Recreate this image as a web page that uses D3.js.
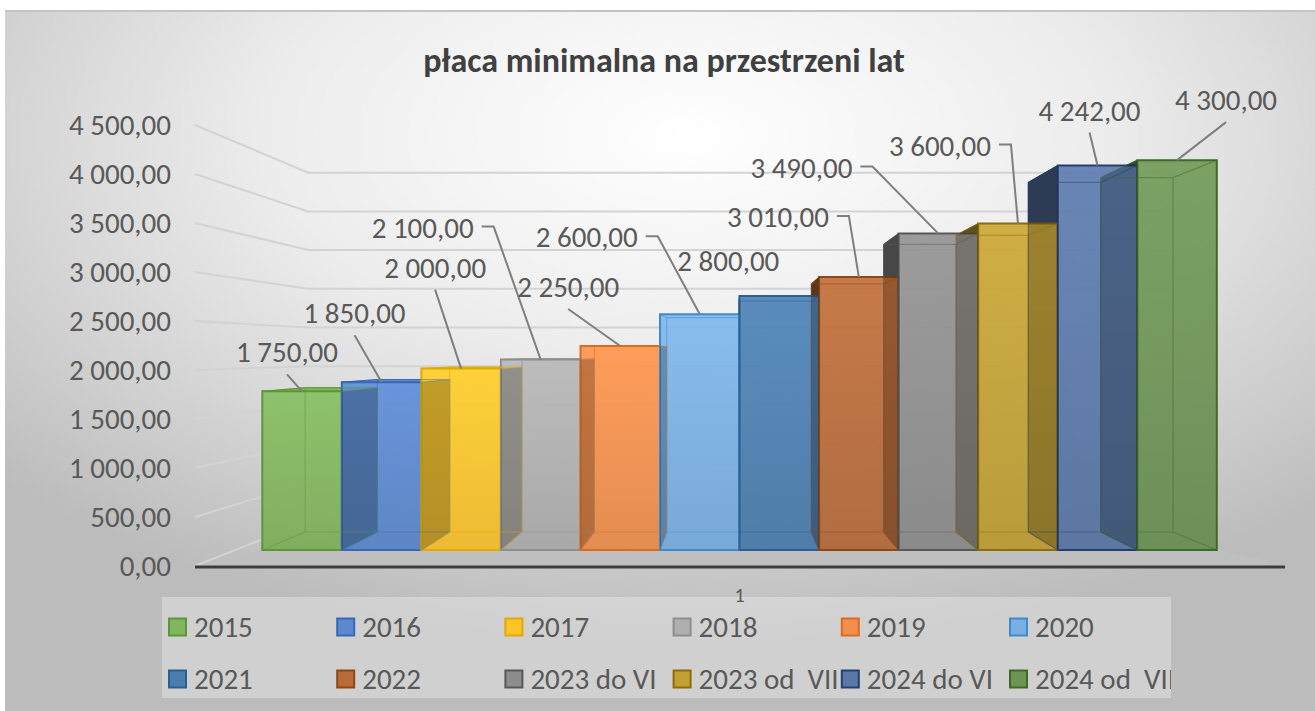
<!DOCTYPE html>
<html>
<head>
<meta charset="utf-8">
<script src="https://cdn.jsdelivr.net/npm/d3@7"></script>
<style>
  body { margin: 0; background: #fff; }
  #chart svg text { font-family: Calibri, Carlito, Lato, sans-serif; }
</style>
</head>
<body>
<div id="chart"></div>
<script>
// data
const years = ["2015", "2016", "2017", "2018", "2019", "2020", "2021", "2022",
    "2023 do VI", "2023 od  VII", "2024 do VI", "2024 od  VII"];
const wages = [1750, 1850, 2000, 2100, 2250, 2600, 2800, 3010, 3490, 3600, 4242, 4300];
const yTicks = [0, 500, 1000, 1500, 2000, 2500, 3000, 3500, 4000, 4500];
const categoryLabel = "1";
const title = "płaca minimalna na przestrzeni lat";

// bar colours (fill / edge)
const fills = ["#82b65e", "#5b88cf", "#fdc42a", "#afafaf", "#f28f4c", "#79afe2",
    "#4a7eaf", "#b96b39", "#8d8d8d", "#c2a034", "#5a77a8", "#6d9455"];
const edges = ["#5d9638", "#3a66b6", "#deaa05", "#8e8e8e", "#d86c20", "#3f8ace",
    "#2c5e8e", "#8c4817", "#585858", "#8d6d0a", "#24406f", "#3e6a28"];

// where each data label sits, relative to the top of its bar [dx, dy, leader: "s" straight, "e" elbow, "" none]
const labelOffsets = [[-15, -39, "s"], [-27, -69, "s"], [-26, -101, "s"], [-118, -132, "e"],
    [-52, -59, "s"], [-113, -77, "e"], [-51, -35, ""], [-81, -60, "e"],
    [-137, -66, "e"], [-78, -78, "e"], [-8, -55, "s"], [49, -60, "s"]];

const width = 1315, height = 711;
const fontSize = "29px";

// simple 3d: everything is drawn on the front plane and pulled toward a vanishing point
const vp = [734, 352];
const tBarFront = 0.075, tBarBack = 0.159, tWall = 0.21;
const proj = (X, Y, t) => [X + t * (vp[0] - X), Y + t * (vp[1] - Y)];
const poly = pts => "M" + pts.map(p => p[0].toFixed(1) + "," + p[1].toFixed(1)).join("L") + "Z";

const fmt = d3.formatLocale({ decimal: ",", thousands: " ", grouping: [3], currency: ["", ""] }).format(",.2f");

const y = d3.scaleLinear().domain([0, 4500]).range([566, 125]);
const x = d3.scaleBand().domain(years).range([224, 1256]).padding(0);
const floorX = [195, 1290];

const svg = d3.select("#chart").append("svg")
    .attr("width", width)
    .attr("height", height);

const defs = svg.append("defs");
const bg = defs.append("radialGradient").attr("id", "bg")
    .attr("cx", 0.52).attr("cy", 0.18).attr("r", 0.72);
bg.append("stop").attr("offset", 0).attr("stop-color", "#ffffff");
bg.append("stop").attr("offset", 0.45).attr("stop-color", "#ececec");
bg.append("stop").attr("offset", 1).attr("stop-color", "#bcbcbc");

years.forEach((k, i) => {
    const g = defs.append("linearGradient").attr("id", "bar" + i)
        .attr("x1", 0).attr("y1", 0).attr("x2", 0).attr("y2", 1);
    g.append("stop").attr("offset", 0).attr("stop-color", d3.color(fills[i]).brighter(0.15));
    g.append("stop").attr("offset", 1).attr("stop-color", d3.color(fills[i]).darker(0.15));
});

// background
svg.append("rect")
    .attr("x", 5).attr("y", 10)
    .attr("width", width - 5).attr("height", height - 10)
    .attr("fill", "url(#bg)");
svg.append("line")
    .attr("x1", 5).attr("x2", width).attr("y1", 11).attr("y2", 11)
    .attr("stroke", "#c4c4c4").attr("stroke-width", 2);

// gridlines: left wall then back wall
svg.append("g").selectAll("path")
    .data(yTicks)
    .join("path")
    .attr("d", v => {
        const a = [floorX[0], y(v)];
        const b = proj(floorX[0], y(v), tWall);
        const c = proj(floorX[1], y(v), tWall);
        return "M" + a.join(",") + "L" + b.join(",") + "L" + c.join(",");
    })
    .attr("fill", "none")
    .attr("stroke", "#d3d3d3")
    .attr("stroke-width", 2);

// floor
const X0 = x(years[0]), X1 = x(years[years.length - 1]) + x.bandwidth();
svg.append("path")
    .attr("d", poly([[floorX[0], y(0)], [floorX[1], y(0)], proj(X1, y(0), tBarFront), proj(X0, y(0), tBarFront)]))
    .attr("fill", "#bfbfbf");

const bars = years.map((k, i) => {
    const a = x(k), b = a + x.bandwidth(), top = y(wages[i]), bot = y(0);
    return { k, i, a, b, top, bot, v: wages[i] };
});

function sideFace(d) {
    const fa = proj(d.a, d.bot, tBarFront)[0], fb = proj(d.b, d.bot, tBarFront)[0];
    let X;
    if (fb < vp[0]) X = d.b;
    else if (fa > vp[0]) X = d.a;
    else return null;
    return poly([proj(X, d.bot, tBarFront), proj(X, d.top, tBarFront), proj(X, d.top, tBarBack), proj(X, d.bot, tBarBack)]);
}

// side faces
svg.append("g").selectAll("path")
    .data(bars.filter(d => sideFace(d)))
    .join("path")
    .attr("d", sideFace)
    .attr("fill", d => d3.color(fills[d.i]).darker(1.3))
    .attr("stroke", d => d3.color(edges[d.i]).darker(0.5))
    .attr("stroke-width", 1);

// top faces (only for bars below eye level)
svg.append("g").selectAll("path")
    .data(bars.filter(d => proj(d.a, d.top, tBarFront)[1] > vp[1]))
    .join("path")
    .attr("d", d => poly([proj(d.a, d.top, tBarFront), proj(d.b, d.top, tBarFront), proj(d.b, d.top, tBarBack), proj(d.a, d.top, tBarBack)]))
    .attr("fill", d => fills[d.i])
    .attr("stroke", d => edges[d.i])
    .attr("stroke-width", 1);

// front faces
svg.append("g").selectAll("path")
    .data(bars)
    .join("path")
    .attr("d", d => poly([proj(d.a, d.top, tBarFront), proj(d.b, d.top, tBarFront), proj(d.b, d.bot, tBarFront), proj(d.a, d.bot, tBarFront)]))
    .attr("fill", d => "url(#bar" + d.i + ")")
    .attr("fill-opacity", 0.93)
    .attr("stroke", d => edges[d.i])
    .attr("stroke-width", 2);

// side faces seen through the neighbouring bar
svg.append("g").selectAll("path")
    .data(bars.filter(d => sideFace(d)))
    .join("path")
    .attr("d", sideFace)
    .attr("fill", "#000")
    .attr("fill-opacity", 0.2);

// back edges visible through the glassy bars
svg.append("g").selectAll("path")
    .data(bars)
    .join("path")
    .attr("d", d => {
        const f = [[d.a, d.top], [d.b, d.top], [d.b, d.bot], [d.a, d.bot]];
        const back = f.map(p => proj(p[0], p[1], tBarBack));
        const front = f.map(p => proj(p[0], p[1], tBarFront));
        let s = poly(back);
        front.forEach((p, j) => { s += "M" + p.join(",") + "L" + back[j].join(","); });
        return s;
    })
    .attr("fill", "none")
    .attr("stroke", d => edges[d.i])
    .attr("stroke-opacity", 0.45)
    .attr("stroke-width", 1.2);

// category axis line
svg.append("line")
    .attr("x1", floorX[0]).attr("x2", floorX[1] - 5)
    .attr("y1", y(0) + 1).attr("y2", y(0) + 1)
    .attr("stroke", "#3c3c3c")
    .attr("stroke-width", 3);

// value axis
const yAxis = svg.append("g")
    .attr("transform", "translate(171,0)")
    .call(d3.axisLeft(y).tickValues(yTicks).tickSize(0).tickPadding(0).tickFormat(fmt));
yAxis.select(".domain").remove();
yAxis.selectAll("text")
    .attr("fill", "#595959")
    .style("font-size", fontSize);

// data labels with leader lines
const labelG = svg.append("g");
bars.forEach((d, i) => {
    const anchor = proj(d.a + x.bandwidth() / 2, d.top, tBarFront);
    const cx = anchor[0] + labelOffsets[i][0], cy = anchor[1] + labelOffsets[i][1];
    const t = labelG.append("text")
        .attr("x", cx).attr("y", cy)
        .attr("dy", "0.35em")
        .attr("text-anchor", "middle")
        .attr("fill", "#595959")
        .style("font-size", fontSize)
        .text(fmt(d.v));
    const kind = labelOffsets[i][2];
    if (!kind) return;
    const half = t.node().getComputedTextLength() / 2;
    let path;
    if (kind === "e") {
        path = "M" + (cx + half + 8) + "," + (cy - 1) + "L" + (cx + half + 20) + "," + (cy - 1) + "L" + anchor.join(",");
    } else {
        path = "M" + cx + "," + (cy + 22) + "L" + anchor.join(",");
    }
    labelG.append("path")
        .attr("d", path)
        .attr("fill", "none")
        .attr("stroke", "#7f7f7f")
        .attr("stroke-width", 2);
});

// legend
const legendBox = { x: 162, y: 597, w: 1009, h: 101 };
defs.append("clipPath").attr("id", "legendClip")
    .append("rect")
    .attr("x", legendBox.x).attr("y", legendBox.y)
    .attr("width", legendBox.w).attr("height", legendBox.h);
svg.append("rect")
    .attr("x", legendBox.x).attr("y", legendBox.y)
    .attr("width", legendBox.w).attr("height", legendBox.h)
    .attr("fill", "#ffffff")
    .attr("fill-opacity", 0.3);

const legend = svg.append("g").attr("clip-path", "url(#legendClip)");
const items = legend.selectAll("g")
    .data(years)
    .join("g")
    .attr("transform", (k, i) => `translate(${169 + (i % 6) * 168.2}, ${627 + Math.floor(i / 6) * 52})`);
items.append("rect")
    .attr("x", 0).attr("y", -8.5)
    .attr("width", 17).attr("height", 17)
    .attr("fill", (k, i) => fills[i])
    .attr("stroke", (k, i) => edges[i])
    .attr("stroke-width", 2);
items.append("text")
    .attr("x", 25).attr("dy", "0.35em")
    .attr("fill", "#595959")
    .style("font-size", fontSize)
    .style("white-space", "pre")
    .text(k => k);

// category tick label
svg.append("text")
    .attr("x", (proj(X0, 0, tBarFront)[0] + proj(X1, 0, tBarFront)[0]) / 2)
    .attr("y", 595)
    .attr("dy", "0.35em")
    .attr("text-anchor", "middle")
    .attr("fill", "#595959")
    .style("font-size", "20px")
    .text(categoryLabel);

// title
svg.append("text")
    .attr("x", 664).attr("y", 60)
    .attr("dy", "0.35em")
    .attr("text-anchor", "middle")
    .attr("fill", "#404040")
    .style("font-size", "34px")
    .style("font-weight", "bold")
    .text(title);
</script>
</body>
</html>
